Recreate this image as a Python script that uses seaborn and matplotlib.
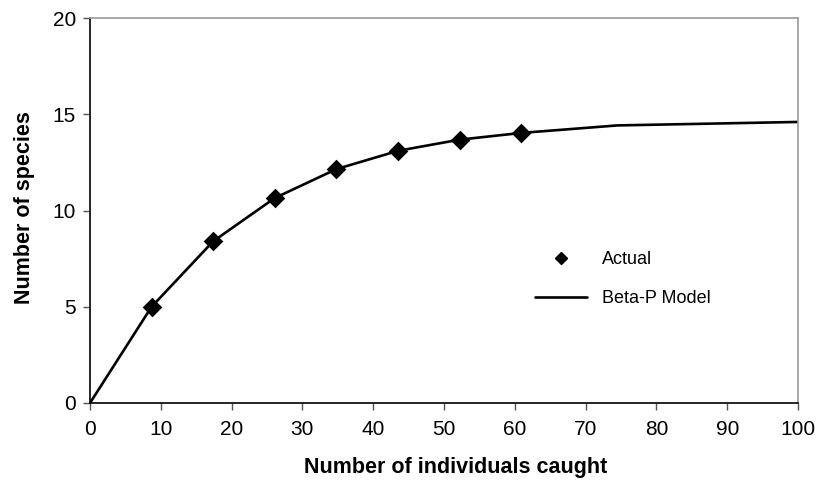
import matplotlib
matplotlib.use("Agg")
import matplotlib.pyplot as plt
import seaborn as sns
import pandas as pd
from matplotlib.lines import Line2D

# Data
actual_x = [8.7, 17.4, 26.1, 34.8, 43.5, 52.2, 60.9]
actual_y = [5.0, 8.4, 10.65, 12.15, 13.1, 13.68, 14.03]
model_x = [0, 8.7, 17.4, 26.1, 34.8, 43.5, 52.2, 60.9, 74.5, 100]
model_y = [0, 5.0, 8.4, 10.65, 12.15, 13.1, 13.68, 14.03, 14.42, 14.6]
x_ticks = list(range(0, 101, 10))
y_ticks = [0, 5, 10, 15, 20]

sns.set_style("white")
plt.rcParams['font.family'] = ['Liberation Sans', 'DejaVu Sans']
plt.rcParams['text.color'] = 'black'
plt.rcParams['axes.labelcolor'] = 'black'
plt.rcParams['xtick.color'] = 'black'
plt.rcParams['ytick.color'] = 'black'

fig = plt.figure(figsize=(8.17, 4.93), dpi=100)
ax = fig.add_axes([90/817, 1-403/493, (798-90)/817, (403-18)/493])

model_df = pd.DataFrame({"x": model_x, "y": model_y})
actual_df = pd.DataFrame({"x": actual_x, "y": actual_y})

sns.lineplot(data=model_df, x="x", y="y", ax=ax, color="black", linewidth=1.9,
             legend=False, zorder=2)
sns.scatterplot(data=actual_df, x="x", y="y", ax=ax, marker="D", s=100,
                color="black", edgecolor="black", linewidth=0, legend=False, zorder=3)

ax.set_xlim(0, 100)
ax.set_ylim(0, 20)
ax.set_xticks(x_ticks)
ax.set_yticks(y_ticks)
ax.tick_params(axis="both", which="major", labelsize=15, length=5,
               width=1, color="#555555", labelcolor="black", direction="out",
               pad=5, bottom=True, left=True)
ax.tick_params(axis="x", pad=7)

for s in ["left", "bottom"]:
    ax.spines[s].set_color("black")
    ax.spines[s].set_linewidth(1.2)
for s in ["top", "right"]:
    ax.spines[s].set_color("#999999")
    ax.spines[s].set_linewidth(1.2)

ax.set_xlabel("Number of individuals caught", fontsize=15.5, fontweight="bold",
              color="black")
ax.xaxis.set_label_coords(0.517, -0.14)
ax.set_ylabel("Number of species", fontsize=15.5, fontweight="bold",
              color="black")
ax.yaxis.set_label_coords(-0.078, 0.508)

handles = [
    Line2D([0], [0], marker="D", color="black", linestyle="none", markersize=6),
    Line2D([0], [0], color="black", linewidth=1.9),
]
leg = fig.legend(handles, ["Actual", "Beta-P Model"], loc="center left",
                 bbox_to_anchor=(535/817, 1-279/493), bbox_transform=fig.transFigure,
                 frameon=False, fontsize=13, handlelength=2.9, handletextpad=0.8,
                 labelspacing=1.2, borderpad=0, borderaxespad=0)
for t in leg.get_texts():
    t.set_color("black")

fig.savefig("out.png", dpi=100)
